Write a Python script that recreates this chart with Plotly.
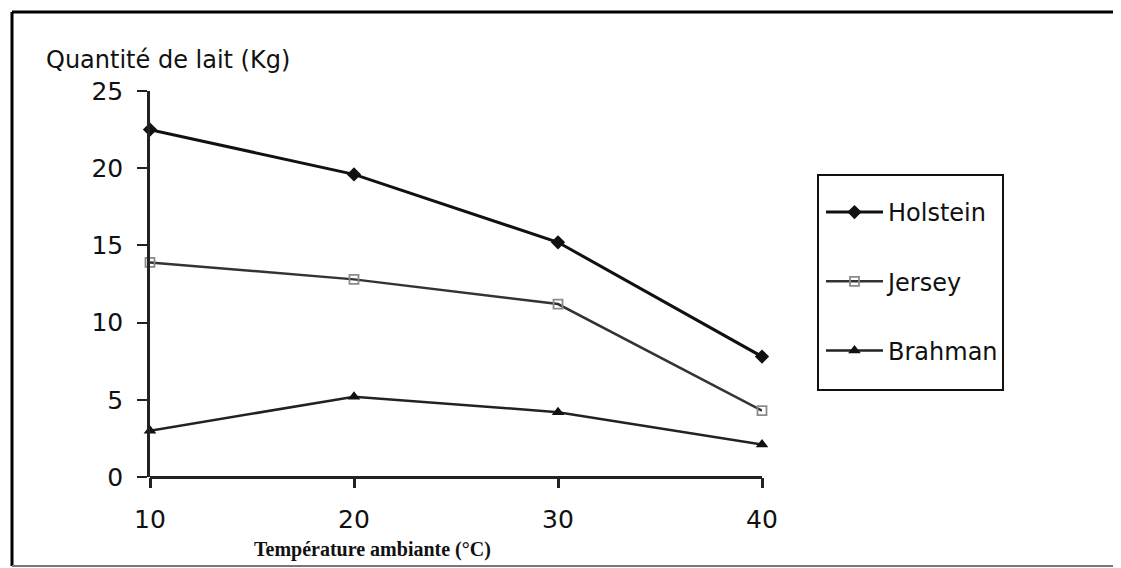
import plotly.graph_objects as go

temperature = [10, 20, 30, 40]
holstein = [22.5, 19.6, 15.2, 7.8]
jersey = [13.9, 12.8, 11.2, 4.3]
brahman = [3.0, 5.2, 4.2, 2.1]
x_ticks = [10, 20, 30, 40]
y_ticks = [0, 5, 10, 15, 20, 25]

# page body has an 8px margin, so the figure is shifted by 8px
OFF = 8
W, H = 1121 - OFF, 568 - OFF
PL, PT = 150, 91          # plot-area top-left in screen pixels
PW, PH = 612, 386         # plot-area size
L, T = PL - OFF, PT - OFF
R, B = W - L - PW, H - T - PH

def px(xp):
    return (xp - PL) / PW

def py(yp):
    return (PT + PH - yp) / PH

SANS = "DejaVu Sans, Arial, sans-serif"
SERIF = "Liberation Serif, Times New Roman, serif"

fig = go.Figure()
fig.add_trace(go.Scatter(
    x=temperature, y=holstein, name="Holstein", mode="lines+markers",
    line=dict(color="#111111", width=3),
    marker=dict(symbol="diamond", size=11, color="#111111"),
    cliponaxis=False, legendgroup="a"))
fig.add_trace(go.Scatter(
    x=temperature, y=jersey, name="Jersey", mode="lines+markers",
    line=dict(color="#333333", width=2.5),
    marker=dict(symbol="square-open", size=9, color="#8a8a8a", line=dict(width=1.8)),
    cliponaxis=False, legendgroup="b"))
fig.add_trace(go.Scatter(
    x=temperature, y=brahman, name="Brahman", mode="lines+markers",
    line=dict(color="#222222", width=2.5),
    marker=dict(symbol="triangle-up", size=11, color="#111111"),
    cliponaxis=False, legendgroup="c"))

fig.update_layout(
    width=W, height=H,
    margin=dict(l=L, r=R, t=T, b=B, autoexpand=False),
    paper_bgcolor="white", plot_bgcolor="white",
    font=dict(family=SANS, size=24, color="#111111"),
    showlegend=True,
    legend=dict(
        x=px(821), y=py(190), xanchor="left", yanchor="top",
        bgcolor="rgba(0,0,0,0)", borderwidth=0, itemwidth=57,
        tracegroupgap=35, font=dict(family=SANS, size=24, color="#111111"),
    ),
    xaxis=dict(
        range=[10, 40], tickvals=x_ticks, showgrid=False, zeroline=False,
        showline=False, ticks="outside", ticklen=10, tickwidth=2.5, tickcolor="#222",
        ticklabelstandoff=10, tickfont=dict(family=SANS, size=25),
    ),
    yaxis=dict(
        range=[0, 25], tickvals=y_ticks, showgrid=False, zeroline=True,
        zerolinecolor="#222", zerolinewidth=2.5,
        showline=True, linecolor="#222", linewidth=2.5,
        ticks="outside", ticklen=10, tickwidth=2, tickcolor="#222",
        ticklabelstandoff=9, tickfont=dict(family=SANS, size=25),
    ),
)

# y-axis title (horizontal, top-left)
fig.add_annotation(
    text="Quantité de lait (Kg)", xref="paper", yref="paper",
    x=px(44), y=py(60), xanchor="left", yanchor="middle", showarrow=False,
    font=dict(family=SANS, size=24, color="#111111"),
)
# x-axis title (serif)
fig.add_annotation(
    text="<b>Température ambiante (°C)</b>", xref="paper", yref="paper",
    x=px(372), y=py(549), xanchor="center", yanchor="middle", showarrow=False,
    font=dict(family=SERIF, size=20, color="#111111"),
)

# legend box
fig.add_shape(type="rect", xref="paper", yref="paper",
              x0=px(818), x1=px(1003), y0=py(390), y1=py(175),
              line=dict(color="#111111", width=2))
# outer frame
fig.add_shape(type="line", xref="paper", yref="paper",
              x0=px(12), x1=px(12), y0=py(12), y1=py(566),
              line=dict(color="#000000", width=3))
fig.add_shape(type="line", xref="paper", yref="paper",
              x0=px(12), x1=px(1130), y0=py(12), y1=py(12),
              line=dict(color="#000000", width=3))
fig.add_shape(type="line", xref="paper", yref="paper",
              x0=px(12), x1=px(1130), y0=py(566), y1=py(566),
              line=dict(color="#777777", width=2))

fig.write_html("out.html")
